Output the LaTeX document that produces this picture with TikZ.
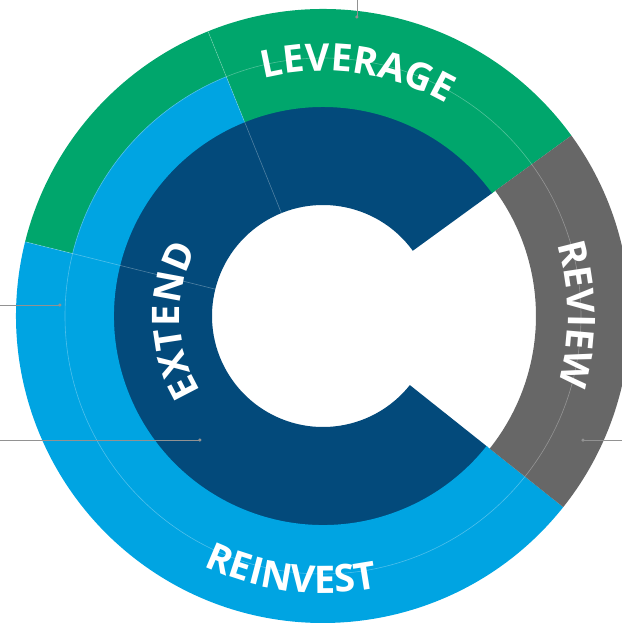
\documentclass[tikz,border=0pt]{standalone}
\usepackage{fontspec}
\newfontfamily\lblfont{Open Sans}
\usetikzlibrary{decorations.text}

\definecolor{ringgreen}{HTML}{00A66C}
\definecolor{ringblue}{HTML}{00A4E2}
\definecolor{ringnavy}{HTML}{034A7B}
\definecolor{ringgray}{HTML}{676767}
\definecolor{leadergray}{HTML}{929292}

\newcommand\ringlabelfont{\lblfont\bfseries\fontsize{38pt}{38pt}\selectfont}

% annular sector: colour, start angle, end angle, inner radius, outer radius
\newcommand\ringsector[5]{%
  \fill[#1] (#2:#4) arc[start angle=#2, end angle=#3, radius=#4]
    -- (#3:#5) arc[start angle=#3, end angle=#2, radius=#5] -- cycle;}

\tikzset{
  seam/.style={white, opacity=0.3, line width=0.6pt},
  leader/.style={leadergray, line width=0.9pt},
  leaderdot/.style={circle, fill=leadergray, inner sep=0pt, minimum size=3.5pt},
  ringtext/.style={decorate, decoration={text along path, text align=center,
      text color=white, text={|\ringlabelfont|#1}}}
}

\begin{document}
\begin{tikzpicture}
  \useasboundingbox (-323pt,-314pt) rectangle (299pt,316pt);
  \clip (-323pt,-314pt) rectangle (299pt,316pt);

  % inner ring (the open C)
  \ringsector{ringnavy}{36}{321.5}{111pt}{210pt}

  % outer ring segments
  \ringsector{ringgreen}{36}{112}{209pt}{307pt}
  \ringsector{ringgreen}{112}{166}{258pt}{307pt}
  \ringsector{ringblue}{112}{321.5}{209pt}{258.3pt}
  \ringsector{ringblue}{166}{321.5}{257.7pt}{307pt}
  \ringsector{ringgray}{-38.5}{36}{213pt}{307pt}

  % fine guide lines
  \draw[seam] (0,0) circle[radius=258pt];
  \draw[seam] (112:111pt) -- (112:307pt);
  \draw[seam] (166:111pt) -- (166:307pt);

  % curved labels
  \path[ringtext=LEVERAGE] (132:245pt) arc[start angle=132, end angle=32, radius=245pt];
  \path[ringtext=REVIEW] (50.4:245pt) arc[start angle=50.4, end angle=-49.6, radius=245pt];
  \path[ringtext=REINVEST] (213:277pt) arc[start angle=213, end angle=313, radius=277pt];
  \path[ringtext=EXTEND] (231.8:143pt) arc[start angle=231.8, end angle=131.8, radius=143pt];

  % leader lines
  \coordinate (topEdge) at (34pt,316pt);
  \node[leaderdot] (topDot) at (34pt,299pt) {};
  \draw[leader] (topEdge) -- (topDot.center);

  \coordinate (leftEdgeA) at (-323pt,11pt);
  \node[leaderdot] (leftDotA) at (-263pt,11pt) {};
  \draw[leader] (leftEdgeA) -- (leftDotA.center);

  \coordinate (leftEdgeB) at (-323pt,-124pt);
  \node[leaderdot] (leftDotB) at (-123pt,-124pt) {};
  \draw[leader] (leftEdgeB) -- (leftDotB.center);

  \coordinate (rightEdge) at (299pt,-124pt);
  \node[leaderdot] (rightDot) at (260pt,-124pt) {};
  \draw[leader] (rightEdge) -- (rightDot.center);
\end{tikzpicture}
\end{document}
